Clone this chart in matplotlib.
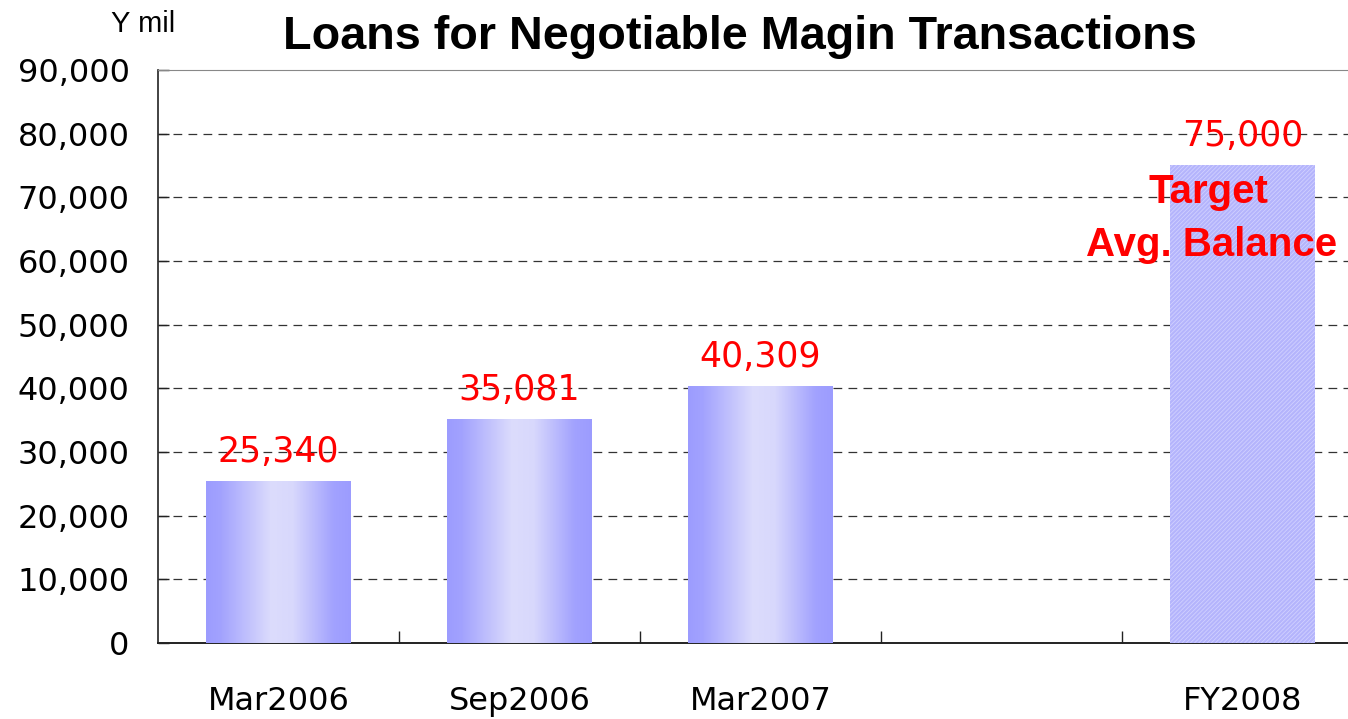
import numpy as np
import matplotlib
matplotlib.use("Agg")
import matplotlib.pyplot as plt
from matplotlib.colors import LinearSegmentedColormap

# data
categories = ["Mar2006", "Sep2006", "Mar2007", "", "FY2008"]
actual_pos = [0, 1, 2]
actual_vals = [25340, 35081, 40309]
target_pos = [4]
target_vals = [75000]
yticks = np.arange(0, 90001, 10000)

plt.rcParams["hatch.linewidth"] = 0.6

fig = plt.figure(figsize=(13.48, 7.19), dpi=100)
# right edge of the plot runs past the picture, as in the reference
ax = fig.add_axes([158 / 1348, 76 / 719, 1205 / 1348, 573 / 719])

ax.set_xlim(-0.5, len(categories) - 0.5)
ax.set_ylim(0, 90000)

# gradient bars
grad = LinearSegmentedColormap.from_list(
    "g", [(0.0, "#9c9cff"), (0.1, "#a2a2fe"), (0.45, "#dcdcfc"),
          (0.6, "#d8d8fc"), (0.88, "#a2a2fe"), (1.0, "#9c9cff")])
width = 0.6
bars = ax.bar(actual_pos, actual_vals, width=width, color="none", zorder=3)
for b in bars:
    x0 = b.get_x()
    ax.imshow(np.linspace(0, 1, 256).reshape(1, -1), cmap=grad,
              extent=(x0, x0 + b.get_width(), 0, b.get_height()),
              aspect="auto", zorder=3, interpolation="bilinear")

# hatched target bar
ax.bar(target_pos, target_vals, width=width, color="#b4b4fc",
       edgecolor="#d0d0ff", hatch="////////", linewidth=0, zorder=3)

ax.set_xlim(-0.5, len(categories) - 0.5)
ax.set_ylim(0, 90000)

# value labels
for x, v in zip(actual_pos + target_pos, actual_vals + target_vals):
    ax.annotate(f"{v:,}", (x, v), xytext=(0, 14), textcoords="offset points",
                ha="center", va="baseline", color="red", fontsize=25,
                family="DejaVu Sans", zorder=5)

ax.text(3.86, 70900, "Target", color="red", fontsize=29, fontweight="bold",
        family="Liberation Sans", ha="center", va="center", zorder=6)
ax.text(3.87, 62500, "Avg. Balance", color="red", fontsize=29, fontweight="bold",
        family="Liberation Sans", ha="center", va="center", zorder=6)

# grid and axes
ax.set_yticks(yticks)
ax.set_yticklabels([f"{t:,}" for t in yticks], fontsize=23, family="DejaVu Sans")
for t in yticks[1:-1]:
    ax.axhline(t, color="#333333", lw=0.9, ls=(0, (7, 5)), zorder=1)

ax.set_xticks(range(len(categories)))
ax.set_xticklabels(categories, fontsize=23, family="DejaVu Sans")
for lab in ax.get_xticklabels():
    lab.set_verticalalignment("baseline")
ax.tick_params(axis="x", which="major", length=0, pad=48)
ax.set_xticks(np.arange(0.5, len(categories) - 0.5, 1), minor=True)
ax.tick_params(axis="x", which="minor", direction="in", length=9, width=1,
               color="#222222")
ax.tick_params(axis="y", direction="in", length=8, width=1, color="#222222",
               pad=20.5)

ax.spines["left"].set_color("#222222")
ax.spines["bottom"].set_color("#222222")
ax.spines["left"].set_linewidth(1.2)
ax.spines["bottom"].set_linewidth(1.4)
ax.spines["top"].set_color("#888888")
ax.spines["right"].set_visible(False)

fig.text(740 / 1348, 1 - 37 / 719, "Loans for Negotiable Magin Transactions",
         fontsize=33.7, fontweight="bold", family="Liberation Sans",
         ha="center", va="center")
fig.text(143 / 1348, 1 - 24 / 719, "Y mil", fontsize=21,
         family="Liberation Sans", ha="center", va="center")

fig.savefig("out.png", dpi=100)
